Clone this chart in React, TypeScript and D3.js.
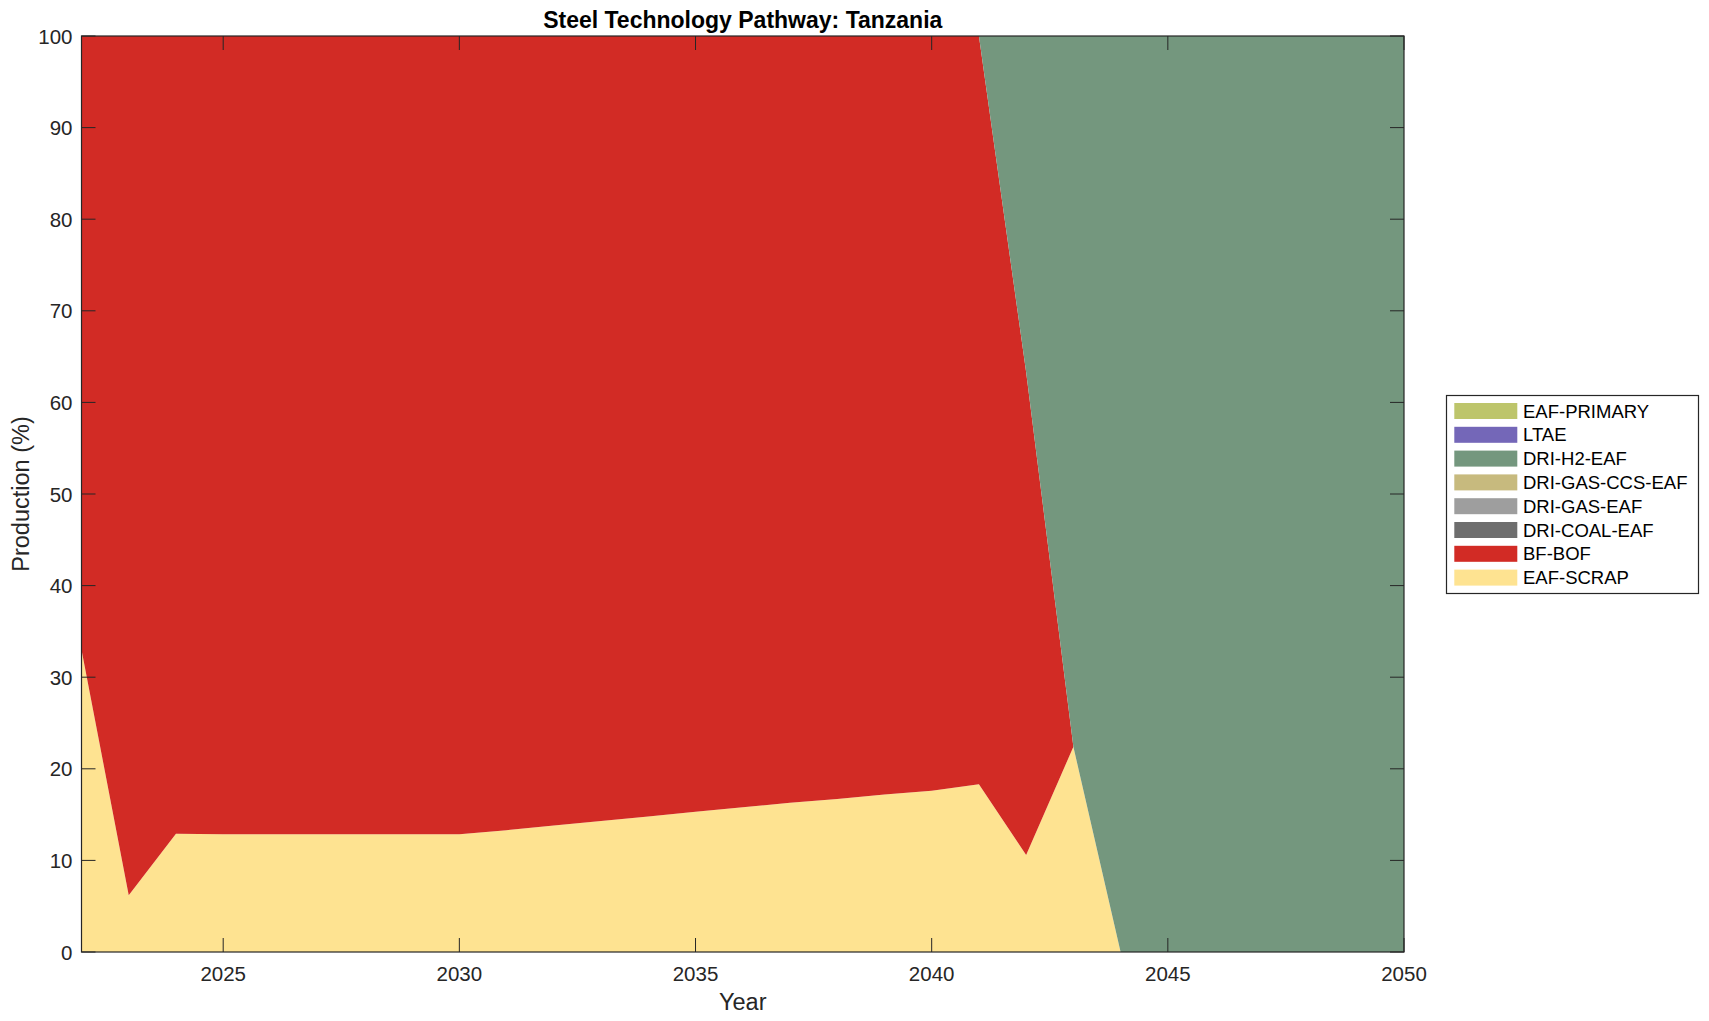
import React from "react";
import * as d3 from "d3";

const years: number[] = d3.range(2022, 2051);

const eafScrap: number[] = [
  33.0, 6.2, 12.9, 12.85, 12.85, 12.85, 12.85, 12.85, 12.85, 13.3,
  13.8, 14.3, 14.8, 15.3, 15.8, 16.3, 16.7, 17.2, 17.6, 18.3,
  10.6, 22.4, 0, 0, 0, 0, 0, 0, 0,
];
const bfBof: number[] = [
  67.0, 93.8, 87.1, 87.15, 87.15, 87.15, 87.15, 87.15, 87.15, 86.7,
  86.2, 85.7, 85.2, 84.7, 84.2, 83.7, 83.3, 82.8, 82.4, 81.7,
  52.7, 0, 0, 0, 0, 0, 0, 0, 0,
];
const driCoal: number[] = years.map(() => 0);
const driGas: number[] = years.map(() => 0);
const driGasCcs: number[] = years.map(() => 0);
const driH2: number[] = [
  0, 0, 0, 0, 0, 0, 0, 0, 0, 0,
  0, 0, 0, 0, 0, 0, 0, 0, 0, 0,
  36.7, 77.6, 100, 100, 100, 100, 100, 100, 100,
];
const ltae: number[] = years.map(() => 0);
const eafPrimary: number[] = years.map(() => 0);

const seriesNames: string[] = [
  "EAF-SCRAP",
  "BF-BOF",
  "DRI-COAL-EAF",
  "DRI-GAS-EAF",
  "DRI-GAS-CCS-EAF",
  "DRI-H2-EAF",
  "LTAE",
  "EAF-PRIMARY",
];
const seriesValues: number[][] = [eafScrap, bfBof, driCoal, driGas, driGasCcs, driH2, ltae, eafPrimary];
const seriesColors: string[] = [
  "#FEE391",
  "#D22B25",
  "#6E6E6E",
  "#9E9E9E",
  "#C7BA7E",
  "#74977E",
  "#7467B8",
  "#BDC56B",
];

const xTicks: number[] = [2025, 2030, 2035, 2040, 2045, 2050];
const yTicks: number[] = d3.range(0, 101, 10);

const FONT = "'Liberation Sans', Arial, Helvetica, sans-serif";
const AX = "#262626";

export default function App() {
  const left = 81.5, right = 1404, top = 36, bottom = 952;
  const x = d3.scaleLinear().domain([2022, 2050]).range([left, right]);
  const y = d3.scaleLinear().domain([0, 100]).range([bottom, top]);

  const rows = years.map((yr, i) => {
    const r: any = { year: yr };
    seriesNames.forEach((n, k) => (r[n] = seriesValues[k][i]));
    return r;
  });
  const stacked = d3.stack<any>().keys(seriesNames)(rows);
  const area = d3
    .area<any>()
    .x((d) => x(d.data.year))
    .y0((d) => y(d[0]))
    .y1((d) => y(d[1]))
    .curve(d3.curveLinear);

  const tickLen = 14;
  const legendOrder = [...seriesNames.keys()].reverse();
  const lgX = 1446.5, lgY = 395.5, lgW = 252, lgH = 198;

  return (
    <svg
      width={1709}
      height={1021}
      style={{ position: "absolute", left: 0, top: 0, background: "#fff" }}
      fontFamily={FONT}
    >
      <rect x={0} y={0} width={1709} height={1021} fill="#fff" />
      {stacked.map((s, k) => (
        <path key={s.key} d={area(s) || ""} fill={seriesColors[k]} stroke="none" />
      ))}
      {xTicks.map((t) => (
        <g key={"xt" + t}>
          <line x1={x(t)} x2={x(t)} y1={bottom} y2={bottom - tickLen} stroke={AX} strokeWidth={1} />
          <line x1={x(t)} x2={x(t)} y1={top} y2={top + tickLen} stroke={AX} strokeWidth={1} />
          <text x={x(t)} y={981} textAnchor="middle" fontSize={20.5} fill={AX}>
            {t}
          </text>
        </g>
      ))}
      {yTicks.map((t) => (
        <g key={"yt" + t}>
          <line x1={left} x2={left + tickLen} y1={y(t)} y2={y(t)} stroke={AX} strokeWidth={1} />
          <line x1={right} x2={right - tickLen} y1={y(t)} y2={y(t)} stroke={AX} strokeWidth={1} />
          <text x={72.5} y={y(t) + 7.5} textAnchor="end" fontSize={20.5} fill={AX}>
            {t}
          </text>
        </g>
      ))}
      <rect x={left} y={top} width={right - left} height={bottom - top} fill="none" stroke={AX} strokeWidth={1.2} />
      <text x={(left + right) / 2} y={28} textAnchor="middle" fontSize={23} fontWeight="bold" fill="#000">
        Steel Technology Pathway: Tanzania
      </text>
      <text x={(left + right) / 2} y={1010} textAnchor="middle" fontSize={23.5} fill={AX}>
        Year
      </text>
      <text
        transform={`translate(29, ${(top + bottom) / 2}) rotate(-90)`}
        textAnchor="middle"
        fontSize={23.5}
        fill={AX}
      >
        Production (%)
      </text>
      <rect x={lgX} y={lgY} width={lgW} height={lgH} fill="#fff" stroke={AX} strokeWidth={1.2} />
      {legendOrder.map((k, i) => {
        const cy = 411 + i * 23.8;
        return (
          <g key={"lg" + k}>
            <rect x={1454.3} y={cy - 8} width={63} height={16} fill={seriesColors[k]} />
            <text x={1523} y={cy + 6.5} fontSize={18.5} fill="#000">
              {seriesNames[k]}
            </text>
          </g>
        );
      })}
    </svg>
  );
}
